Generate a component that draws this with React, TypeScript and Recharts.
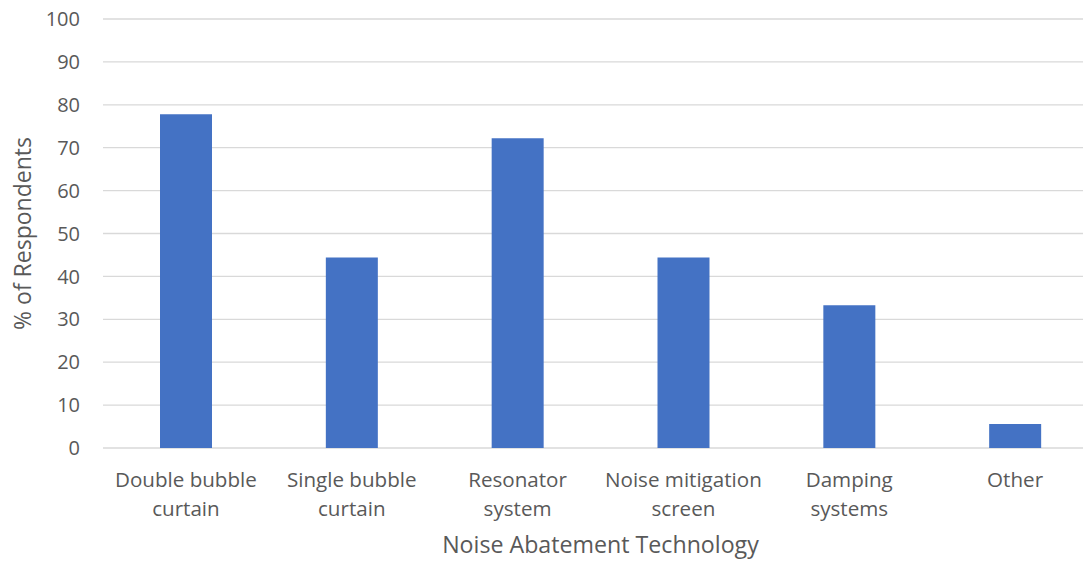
import { BarChart, Bar, XAxis, YAxis, CartesianGrid } from "recharts";

const technologies = [
  "Double bubble\ncurtain",
  "Single bubble\ncurtain",
  "Resonator\nsystem",
  "Noise mitigation\nscreen",
  "Damping\nsystems",
  "Other",
];
const respondentShare = [77.8, 44.4, 72.2, 44.4, 33.3, 5.6];
const yTicks = [0, 10, 20, 30, 40, 50, 60, 70, 80, 90, 100];

const chartData = technologies.map((name, i) => ({
  name,
  value: respondentShare[i],
}));

const FONT = "'Open Sans', sans-serif";
const TEXT = "#595959";

const CategoryTick = (props: any) => {
  const { x, y, payload } = props;
  const lines = String(payload.value).split("\n");
  return (
    <text x={x} y={y} textAnchor="middle" fill={TEXT} fontSize={20.6} fontFamily={FONT}>
      {lines.map((line, i) => (
        <tspan key={i} x={x} y={y + 39 + i * 29}>
          {line}
        </tspan>
      ))}
    </text>
  );
};

const YTitle = (props: any) => {
  const { viewBox } = props;
  const cx = 22;
  const cy = viewBox.y + viewBox.height / 2;
  return (
    <text
      x={cx}
      y={cy}
      transform={`rotate(-90, ${cx}, ${cy})`}
      textAnchor="middle"
      dominantBaseline="central"
      fill={TEXT}
      fontSize={23}
      fontFamily={FONT}
    >
      % of Respondents
    </text>
  );
};

const XTitle = (props: any) => {
  const { viewBox } = props;
  return (
    <text
      x={viewBox.x + viewBox.width / 2}
      y={553}
      textAnchor="middle"
      fill={TEXT}
      fontSize={23.2}
      fontFamily={FONT}
    >
      Noise Abatement Technology
    </text>
  );
};

export default function App() {
  return (
    <div style={{ marginLeft: -8, marginTop: -8, width: 1091, height: 561, overflow: "hidden", background: "#fff" }}>
      <BarChart
        width={1110}
        height={561}
        data={chartData}
        margin={{ top: 19, right: 12, left: 0, bottom: 0 }}
      >
        <CartesianGrid vertical={false} stroke="#D9D9D9" strokeWidth={1.3} />
        <YAxis
          width={103}
          domain={[0, 100]}
          ticks={yTicks}
          interval={0}
          axisLine={false}
          tickLine={false}
          tickSize={0}
          tickMargin={23}
          tick={{ fill: TEXT, fontSize: 20, fontFamily: FONT }}
          label={{ content: YTitle }}
        />
        <XAxis
          dataKey="name"
          height={113}
          interval={0}
          axisLine={false}
          tickLine={false}
          tickSize={0}
          tickMargin={0}
          tick={<CategoryTick />}
          label={{ content: XTitle }}
        />
        <Bar dataKey="value" fill="#4472C4" barSize={52} isAnimationActive={false} />
      </BarChart>
    </div>
  );
}
